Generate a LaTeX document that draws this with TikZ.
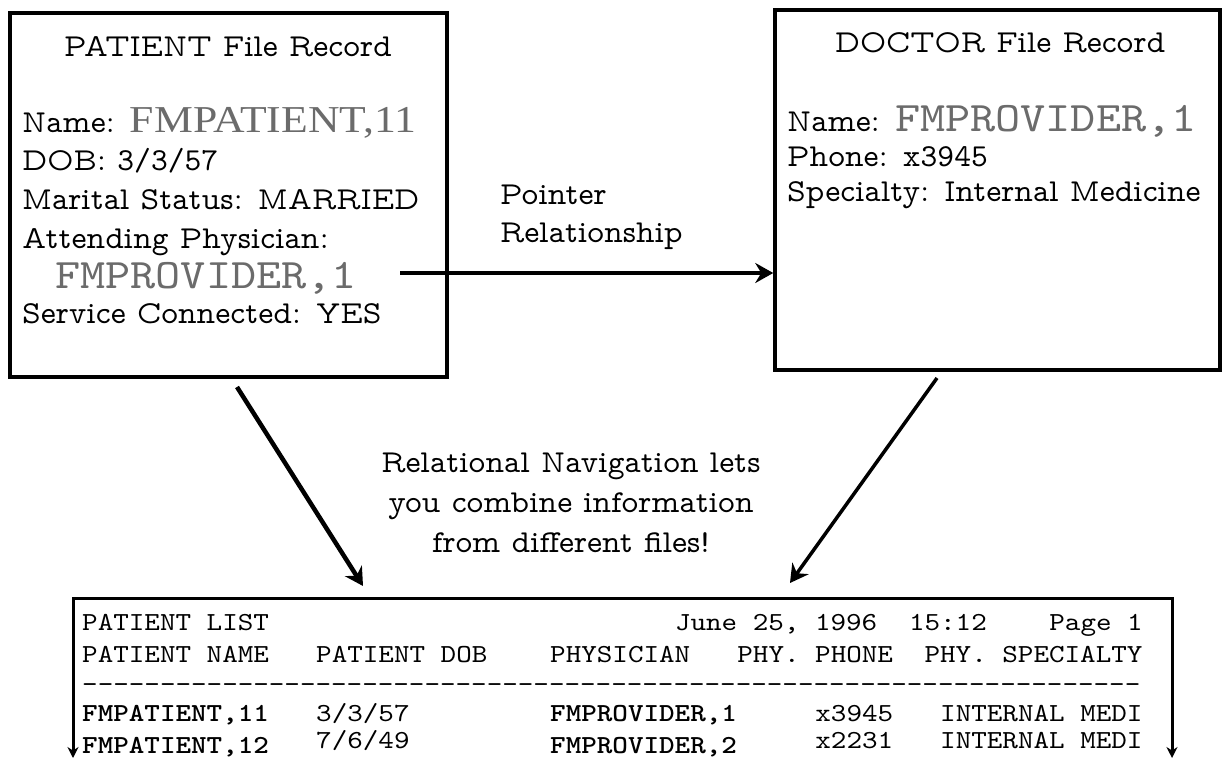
\documentclass[tikz,border=0pt]{standalone}
\usepackage{fontspec}
\newfontfamily\slabfont{lmmonoprop10-regular.otf}
\newfontfamily\monofont{lmmono10-regular.otf}[FakeStretch=1.14,BoldFont=lmmonolt10-bold.otf,Ligatures=TeXOff]
\newfontfamily\timesfont{Liberation Serif}[FakeStretch=1.15]
\usetikzlibrary{arrows.meta}
\definecolor{namegrey}{gray}{0.42}
\newcommand\greyname[1]{{\timesfont\fontsize{38}{38}\selectfont\color{namegrey}#1}}
\newcommand\greyprov[1]{{\monofont\fontsize{42}{42}\selectfont\color{namegrey}#1}}

\begin{document}
\begin{tikzpicture}
  [x=1pt,y=-1pt,
   record/.style={draw,line width=3.5pt,inner sep=0pt},
   field/.style={anchor=base west,inner sep=0pt,font=\slabfont\fontsize{32}{38}\selectfont},
   caption/.style={field,anchor=base},
   report/.style={anchor=base west,inner sep=0pt,font=\monofont\fontsize{26}{30}\selectfont},
   boldreport/.style={report,font=\monofont\bfseries\fontsize{26}{30}\selectfont},
   link/.style={line width=4.5pt,-{Stealth[length=18pt,width=20pt,inset=6pt]}}]
  \useasboundingbox (0,0) rectangle (1222,759);

  % file records
  \node[record,minimum width=437pt,minimum height=364pt] (patient) at (228.5,195) {};
  \node[record,minimum width=445pt,minimum height=360pt] (doctor) at (997.5,190) {};

  \node[field,anchor=base] (ptitle) at (228,57) {PATIENT File Record};
  \node[field] (pname) at (22,133) {Name: \greyname{FMPATIENT,11}};
  \node[field] (pdob) at (22,171) {DOB: 3/3/57};
  \node[field] (pstatus) at (22,210) {Marital Status: MARRIED};
  \node[field] (pattend) at (22,248) {Attending Physician:};
  \node[field] (pprov) at (55,288) {\greyprov{FMPROVIDER,1}};
  \node[field] (pservice) at (22,323) {Service Connected: YES};

  \node[field,anchor=base] (dtitle) at (1000,53) {DOCTOR File Record};
  \node[field] (dname) at (787,132) {Name: \greyprov{FMPROVIDER,1}};
  \node[field] (dphone) at (787,167) {Phone: x3945};
  \node[field] (dspec) at (787,202) {Specialty: Internal Medicine};

  % pointer between the records
  \node[field] (pointer) at (500,205) {Pointer};
  \node[field] (relation) at (500,243) {Relationship};
  \coordinate (pstart) at (400,273);
  \draw[link] (pstart) -- (pstart -| doctor.west);

  % navigation to the report
  \foreach \txt [count=\i] in {Relational Navigation lets,you combine information,from different files!}
    \node[caption] (nav\i) at (571,432+40*\i) {\txt};
  \coordinate (pfoot) at (237,387);
  \coordinate (dfoot) at (937,378);
  \coordinate (lnav) at (363,586);
  \coordinate (rnav) at (790,583);
  \draw[link] (pfoot) -- (lnav);
  \draw[link,line width=3.5pt] (dfoot) -- (rnav);

  % report listing
  \coordinate (lend) at (73,758);
  \coordinate (rend) at (1172,758);
  \draw[line width=3pt,{Stealth[length=11pt,width=11pt]}-{Stealth[length=11pt,width=11pt]}]
    (lend) |- (1172,598) -- (rend);
  \foreach \c/\t in {0/PATIENT LIST,38/{June 25, 1996},53/15:12,62/Page 1}
    \node[report] (top\c) at (82+15.6*\c,630) {\t};
  \foreach \c/\t in {0/PATIENT NAME,15/PATIENT DOB,30/PHYSICIAN,42/PHY. PHONE,54/PHY. SPECIALTY}
    \node[report] (head\c) at (82+15.6*\c,662) {\t};
  \node[report] (rule) at (82,692) {--------------------------------------------------------------------};
  \node[boldreport] (pat1) at (82,721) {FMPATIENT,11};
  \node[report] (dob1) at (316,721) {3/3/57};
  \node[boldreport] (prov1) at (550,721) {FMPROVIDER,1};
  \node[report] (tel1) at (815.2,721) {x3945};
  \node[report] (spec1) at (940,721) {INTERNAL MEDI};
  \node[boldreport] (pat2) at (82,753) {FMPATIENT,12};
  \node[report] (dob2) at (316,748) {7/6/49};
  \node[boldreport] (prov2) at (550,753) {FMPROVIDER,2};
  \node[report] (tel2) at (815.2,748) {x2231};
  \node[report] (spec2) at (940,748) {INTERNAL MEDI};
\end{tikzpicture}
\end{document}
